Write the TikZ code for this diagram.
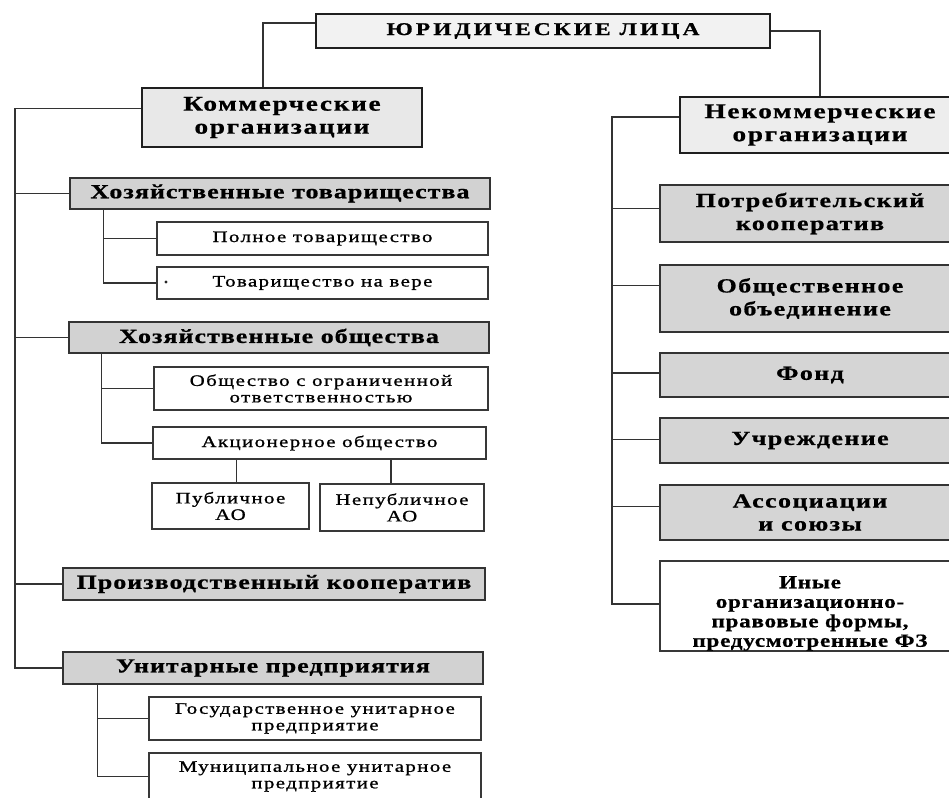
\documentclass[tikz,border=0pt]{standalone}
\usepackage{fontspec}
\setmainfont{Liberation Serif}
\newcommand\titlef{\fontsize{18}{20}\selectfont\bfseries\addfontfeatures{FakeStretch=1.3,LetterSpace=17,FakeBold=0.8}}
\newcommand\mainf{\fontsize{21}{23}\selectfont\bfseries\addfontfeatures{FakeStretch=1.3,LetterSpace=8,FakeBold=0.8}}
\newcommand\headf{\fontsize{20}{21}\selectfont\bfseries\addfontfeatures{FakeStretch=1.3,LetterSpace=5,FakeBold=0.8}}
\newcommand\rightf{\fontsize{20}{23}\selectfont\bfseries\addfontfeatures{FakeStretch=1.3,LetterSpace=7,FakeBold=0.8}}
\newcommand\inyef{\fontsize{18.5}{19.5}\selectfont\bfseries\addfontfeatures{FakeStretch=1.25,LetterSpace=4,FakeBold=0.8}}
\newcommand\smallf{\fontsize{16}{16.5}\selectfont\addfontfeatures{FakeStretch=1.3,LetterSpace=9,FakeBold=1}}
\begin{document}
\begin{tikzpicture}[x=1pt,y=-1pt,
  every node/.style={inner sep=0pt, align=center, anchor=center},
  mainbox/.style={draw=black!88, line width=2.4pt},
  graybox/.style={draw=black!80, line width=1.6pt, fill=gray!35, font=\headf},
  rgraybox/.style={draw=black!80, line width=1.6pt, fill=gray!33, font=\rightf},
  whitebox/.style={draw=black!78, line width=1.4pt, fill=white, font=\smallf},
  conn/.style={draw=black!80, line width=1.3pt}]
\useasboundingbox (0,0) rectangle (949,797);
\clip (0,0) rectangle (949,797);
\fill[white] (0,0) rectangle (949,797);

% top level
\node[mainbox, fill=gray!10, font=\titlef, minimum width=454pt, minimum height=34pt] (title) at (543,31) {ЮРИДИЧЕСКИЕ ЛИЦА};
\node[mainbox, fill=gray!18, font=\mainf, minimum width=280pt, minimum height=59pt] (kom) at (282,117.5) {Коммерческие\\организации};
\node[mainbox, fill=gray!14, font=\mainf, minimum width=280pt, minimum height=56pt] (nekom) at (820,125) {Некоммерческие\\организации};

% left column
\node[graybox, minimum width=420pt, minimum height=31pt] (ht) at (280,193.5) {Хозяйственные товарищества};
\node[whitebox, minimum width=331pt, minimum height=33pt] (pt) at (322.5,238.5) {Полное товарищество};
\node[whitebox, minimum width=331pt, minimum height=32pt] (tv) at (322.5,283) {Товарищество на вере};
\node[circle, fill=black!85, inner sep=1.2pt] (dot) at (166,282) {};
\node[graybox, minimum width=420pt, minimum height=31pt] (ho) at (279,337.5) {Хозяйственные общества};
\node[whitebox, minimum width=334pt, minimum height=43pt] (ooo) at (321,388.5) {Общество с ограниченной\\ответственностью};
\node[whitebox, minimum width=333pt, minimum height=32pt] (ao) at (319.5,443) {Акционерное общество};
\node[whitebox, minimum width=157pt, minimum height=46pt] (pao) at (230.5,506) {Публичное\\АО};
\node[whitebox, minimum width=164pt, minimum height=47pt] (npao) at (402,507.5) {Непубличное\\АО};
\node[graybox, minimum width=422pt, minimum height=32pt] (pk) at (274,584) {Производственный кооператив};
\node[graybox, minimum width=420pt, minimum height=32pt] (up) at (273,668) {Унитарные предприятия};
\node[whitebox, minimum width=332pt, minimum height=43pt] (gup) at (315,718.5) {Государственное унитарное\\предприятие};
\node[whitebox, minimum width=332pt, minimum height=47pt] (mup) at (315,776.5) {Муниципальное унитарное\\предприятие};

% right column
\node[rgraybox, minimum width=300pt, minimum height=57pt] (potr) at (810,213.5) {Потребительский\\кооператив};
\node[rgraybox, minimum width=300pt, minimum height=67pt] (obsh) at (810,298.5) {Общественное\\объединение};
\node[rgraybox, minimum width=300pt, minimum height=44pt] (fond) at (810,375) {Фонд};
\node[rgraybox, minimum width=300pt, minimum height=45pt] (uchr) at (810,440.5) {Учреждение};
\node[rgraybox, minimum width=300pt, minimum height=55pt] (assoc) at (810,512.5) {Ассоциации\\и союзы};
\node[whitebox, font=\inyef, line width=1.6pt, minimum width=300pt, minimum height=88pt] (inye) at (810,606) {\rule{0pt}{27pt}Иные\\организационно-\\правовые формы,\\предусмотренные ФЗ};

% connectors top
\draw[conn] ([yshift=8pt]title.west) -| ([xshift=-19pt]kom.north);
\draw[conn] (title.east) -| (nekom.north);

% left spine
\coordinate (ls) at (15,0);
\draw[conn] ([yshift=9pt]kom.west) -| (ls |- up.west) -- (up.west);
\draw[conn] (ls |- ht.west) -- (ht.west);
\draw[conn] (ls |- ho.west) -- (ho.west);
\draw[conn] (ls |- pk.west) -- (pk.west);

% sub spines
\draw[conn] ([xshift=34pt]ht.south west) |- (tv.west);
\draw[conn] ([xshift=34pt]ht.south west |- pt.west) -- (pt.west);
\draw[conn] ([xshift=33pt]ho.south west) |- (ao.west);
\draw[conn] ([xshift=33pt]ho.south west |- ooo.west) -- (ooo.west);
\draw[conn] ([xshift=6pt]pao.north) -- ([xshift=6pt]pao.north |- ao.south);
\draw[conn] ([xshift=-11pt]npao.north) -- ([xshift=-11pt]npao.north |- ao.south);
\draw[conn] ([xshift=35pt]up.south west) |- (mup.west);
\draw[conn] ([xshift=35pt]up.south west |- gup.west) -- (gup.west);

% right spine
\coordinate (rs) at (612,0);
\draw[conn] ([yshift=8pt]nekom.west) -| ([yshift=2pt]rs |- inye.west) -- ([yshift=2pt]inye.west);
\draw[conn] ([yshift=5pt]rs |- potr.west) -- ([yshift=5pt]potr.west);
\draw[conn] ([yshift=13pt]rs |- obsh.west) -- ([yshift=13pt]obsh.west);
\draw[conn] ([yshift=2pt]rs |- fond.west) -- ([yshift=2pt]fond.west);
\draw[conn] ([yshift=1pt]rs |- uchr.west) -- ([yshift=1pt]uchr.west);
\draw[conn] ([yshift=6pt]rs |- assoc.west) -- ([yshift=6pt]assoc.west);
\end{tikzpicture}
\end{document}
